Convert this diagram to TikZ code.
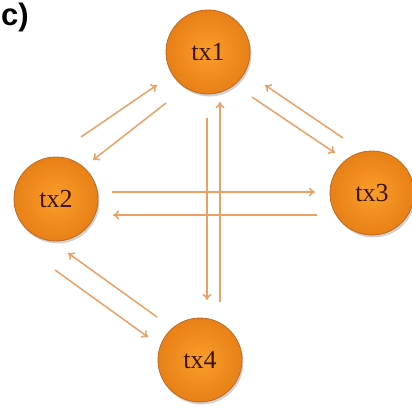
\documentclass[tikz,border=0pt]{standalone}
\usepackage{fontspec}
\setmainfont{Liberation Serif}
\newfontfamily\labelfont{Liberation Sans}
\usetikzlibrary{arrows.meta,shadows}
\definecolor{nodelight}{RGB}{250,158,42}
\definecolor{nodedark}{RGB}{232,128,22}
\definecolor{edgeor}{RGB}{190,105,35}
\definecolor{arrowor}{RGB}{236,160,100}
\definecolor{txtcol}{RGB}{60,20,8}
\tikzset{
  tx/.style={circle, minimum size=84pt, inner sep=0pt, draw=edgeor, line width=0.8pt,
    inner color=nodelight, outer color=nodedark, text=txtcol,
    font=\fontsize{26}{26}\selectfont,
    drop shadow={shadow xshift=1.5pt, shadow yshift=-2.5pt, opacity=0.3, fill=black!60}},
  link/.style={draw=arrowor, line width=1.5pt, -{To[length=6pt,width=9pt]}}
}
\begin{document}
\begin{tikzpicture}[x=1pt,y=-1pt]
\useasboundingbox (0,0) rectangle (412,407);
\node[font=\labelfont\bfseries\fontsize{31}{31}\selectfont, anchor=north west, inner sep=0pt] (lab) at (1,3) {c)};
\node[tx] (t1) at (208,52) {tx1};
\node[tx] (t2) at (56,199) {tx2};
\node[tx] (t3) at (372,193) {tx3};
\node[tx] (t4) at (200,360) {tx4};
% tx1 <-> tx2
\coordinate (a1s) at (81,137); \coordinate (a1e) at (157,85);
\draw[link] (a1s) -- (a1e);
\coordinate (a2s) at (166,103); \coordinate (a2e) at (93,160);
\draw[link] (a2s) -- (a2e);
% tx1 <-> tx3
\coordinate (b1s) at (252,97); \coordinate (b1e) at (335,153);
\draw[link] (b1s) -- (b1e);
\coordinate (b2s) at (343,138); \coordinate (b2e) at (265,85);
\draw[link] (b2s) -- (b2e);
% tx2 <-> tx3
\coordinate (c1s) at (112,192); \coordinate (c1e) at (315,192);
\draw[link] (c1s) -- (c1e);
\coordinate (c2s) at (317,215); \coordinate (c2e) at (113,215);
\draw[link] (c2s) -- (c2e);
% tx1 <-> tx4
\coordinate (d1s) at (207,118); \coordinate (d1e) at (207,300);
\draw[link] (d1s) -- (d1e);
\coordinate (d2s) at (220,302); \coordinate (d2e) at (220,102);
\draw[link] (d2s) -- (d2e);
% tx2 <-> tx4
\coordinate (e1s) at (55,270); \coordinate (e1e) at (148,337);
\draw[link] (e1s) -- (e1e);
\coordinate (e2s) at (157,317); \coordinate (e2e) at (68,253);
\draw[link] (e2s) -- (e2e);
\end{tikzpicture}
\end{document}
